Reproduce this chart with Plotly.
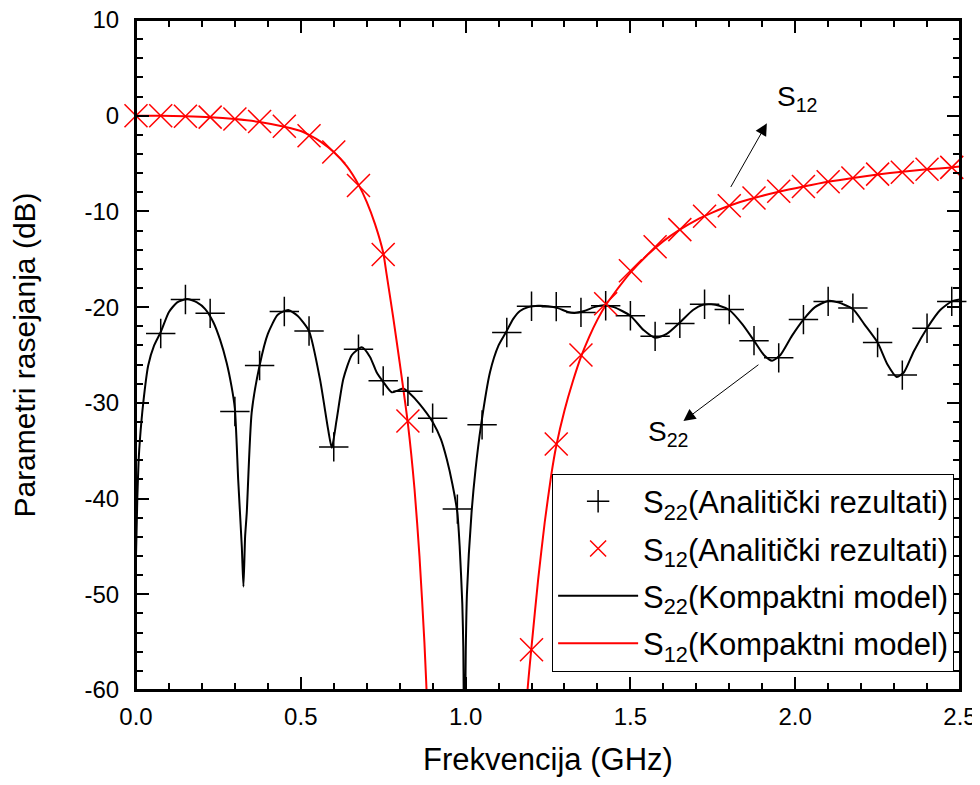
import plotly.graph_objects as go

# analytical results, step 0.075 GHz
f_s22_pts = [0.075, 0.15, 0.225, 0.3, 0.375, 0.45, 0.525, 0.6, 0.675, 0.75, 0.825, 0.9,
             0.975, 1.05, 1.125, 1.2, 1.275, 1.35, 1.425, 1.5, 1.575, 1.65, 1.725, 1.8,
             1.875, 1.95, 2.025, 2.1, 2.175, 2.25, 2.325, 2.4, 2.475]
s22_pts = [-22.75, -19.2, -20.65, -30.9, -26.1, -20.45, -22.5, -34.6, -24.4, -27.7, -28.8, -31.6,
           -41.1, -32.3, -22.65, -19.9, -19.95, -20.55, -19.85, -20.9, -23.05, -21.7, -19.7, -20.25,
           -23.5, -25.3, -21.3, -19.4, -20.1, -23.7, -27.1, -22.2, -19.4]

f_s12_pts = [0.0, 0.075, 0.15, 0.225, 0.3, 0.375, 0.45, 0.525, 0.6, 0.675, 0.75, 0.825,
             1.2, 1.275, 1.35, 1.425, 1.5, 1.575, 1.65, 1.725, 1.8, 1.875, 1.95, 2.025,
             2.1, 2.175, 2.25, 2.325, 2.4, 2.475]
s12_pts = [0.0, 0.0, -0.05, -0.15, -0.35, -0.6, -1.1, -2.1, -3.8, -7.3, -14.5, -31.9,
           -55.8, -34.3, -25.0, -19.65, -16.2, -13.7, -11.9, -10.5, -9.4, -8.6, -7.9, -7.4,
           -6.9, -6.5, -6.1, -5.9, -5.6, -5.4]

# compact model
f_s22_line = [0.0, 0.004, 0.008, 0.012, 0.022, 0.037, 0.055, 0.075, 0.1, 0.125, 0.155, 0.185,
              0.21, 0.235, 0.255, 0.275, 0.29, 0.3, 0.31, 0.321, 0.326, 0.331, 0.336, 0.351,
              0.375, 0.4, 0.43, 0.462, 0.49, 0.525, 0.558, 0.583, 0.594, 0.609, 0.629, 0.655,
              0.685, 0.71, 0.73, 0.75, 0.776, 0.795, 0.811, 0.83, 0.86, 0.9, 0.925, 0.943,
              0.96, 0.975, 0.982, 0.99, 0.993, 0.9965, 1.0005, 1.004, 1.018, 1.03, 1.047, 1.074,
              1.1, 1.123, 1.145, 1.165, 1.19, 1.22, 1.25, 1.28, 1.31, 1.33, 1.36, 1.39,
              1.42, 1.45, 1.5, 1.54, 1.575, 1.61, 1.65, 1.69, 1.72, 1.745, 1.77, 1.8,
              1.84, 1.875, 1.905, 1.93, 1.955, 1.99, 2.025, 2.06, 2.1, 2.13, 2.175, 2.21,
              2.25, 2.28, 2.308, 2.33, 2.36, 2.4, 2.44, 2.475, 2.5]
s22_line = [-46, -40, -36, -33.8, -30, -26.1, -24, -22.6, -20.5, -19.5, -19.15, -19.5,
            -20.2, -21.6, -23.4, -25.8, -28.3, -30.6, -38, -45, -49.2, -44, -41.5, -31,
            -26.1, -22.8, -20.8, -20.3, -20.9, -22.5, -27.5, -32.8, -34.7, -31.7, -27.5, -25.0,
            -24.2, -25.2, -26.8, -27.8, -28.9, -28.7, -28.5, -29.0, -30.1, -32.0, -33.8, -35.9,
            -38.5, -41.5, -45, -51, -55.5, -70, -56, -50, -41.5, -37, -32.3, -26.8,
            -24, -22.6, -21.2, -20.4, -20.0, -19.85, -19.9, -20.1, -20.5, -20.6, -20.4, -20.0,
            -19.8, -20.0, -20.9, -22.4, -23.2, -22.8, -21.6, -20.3, -19.75, -19.7, -19.85, -20.3,
            -21.8, -23.5, -25.0, -25.6, -25.0, -23.0, -21.3, -20.0, -19.35, -19.5, -20.2, -21.8,
            -23.7, -26.0, -27.3, -26.8, -24.6, -22.2, -20.3, -19.4, -19.2]

f_s12_line = [0.0, 0.075, 0.15, 0.225, 0.3, 0.375, 0.45, 0.5, 0.525, 0.56, 0.6, 0.64,
              0.675, 0.7, 0.725, 0.75, 0.76, 0.78, 0.8, 0.825, 0.845, 0.86, 0.875, 0.885,
              0.895, None,
              1.18, 1.188, 1.2, 1.22, 1.24, 1.26, 1.275, 1.3, 1.325, 1.35, 1.375, 1.4,
              1.425, 1.45, 1.5, 1.55, 1.6, 1.65, 1.7, 1.75, 1.8, 1.875, 1.95, 2.025,
              2.1, 2.175, 2.25, 2.325, 2.4, 2.475, 2.5]
s12_line = [0.0, 0.0, -0.05, -0.15, -0.35, -0.65, -1.15, -1.6, -2.0, -2.7, -3.8, -5.3,
            -7.2, -9.0, -11.3, -14.3, -16.5, -21.0, -25.8, -32.2, -39, -46, -55, -63,
            -75, None,
            -66, -60, -55.5, -48.5, -42.5, -37.5, -34.5, -30.8, -27.8, -25.2, -23.1, -21.3,
            -19.8, -18.6, -16.4, -14.6, -13.1, -11.9, -10.9, -10.1, -9.4, -8.6, -7.95, -7.4,
            -6.9, -6.5, -6.15, -5.85, -5.6, -5.4, -5.3]

y_ticks = [10, 0, -10, -20, -30, -40, -50, -60]
y_ticktext = ['10', '0', '-10', '-20', '-30', '-40', '-50', '-60']

FONT = 'Arial, Liberation Sans, sans-serif'

fig = go.Figure()
fig.add_trace(go.Scatter(
    x=f_s22_line, y=s22_line, mode='lines', name='S<sub>22</sub>(Kompaktni model)',
    line=dict(color='black', width=2, shape='spline', smoothing=0.6), legendrank=3, legendgroup='c'
))
fig.add_trace(go.Scatter(
    x=f_s12_line, y=s12_line, mode='lines', name='S<sub>12</sub>(Kompaktni model)',
    line=dict(color='red', width=2, shape='spline', smoothing=0.6), legendrank=4, legendgroup='d'
))
fig.add_trace(go.Scatter(
    x=f_s22_pts, y=s22_pts, mode='markers', name='S<sub>22</sub>(Analitički rezultati)',
    marker=dict(symbol='cross-thin-open', size=21, color='black', line=dict(color='black', width=1.5)),
    legendrank=1, legendgroup='a', cliponaxis=False
))
fig.add_trace(go.Scatter(
    x=f_s12_pts, y=s12_pts, mode='markers', name='S<sub>12</sub>(Analitički rezultati)',
    marker=dict(symbol='x-thin-open', size=23, color='red', line=dict(color='red', width=1.5)),
    legendrank=2, legendgroup='b', cliponaxis=False
))

axis_common = dict(
    showline=True, linecolor='black', linewidth=2, mirror='allticks',
    ticks='inside', ticklen=13, tickwidth=2, tickcolor='black',
    showgrid=False, zeroline=False, automargin=False, ticklabeloverflow='allow',
    tickfont=dict(family=FONT, size=24, color='black'),
)
fig.update_xaxes(
    range=[0, 2.5], dtick=0.5, tickformat='.1f', ticklabelstandoff=4,
    minor=dict(ticks='inside', ticklen=7, tickwidth=2, dtick=0.1, tickcolor='black'),
    title=dict(text='Frekvencija (GHz)', font=dict(family=FONT, size=31, color='black'), standoff=22),
    **axis_common
)
fig.update_yaxes(
    range=[-60, 10], tickvals=y_ticks, ticktext=y_ticktext, ticklabelstandoff=10,
    minor=dict(ticks='inside', ticklen=7, tickwidth=2, dtick=2, tickcolor='black'),
    title=dict(text='Parametri rasejanja (dB)', font=dict(family=FONT, size=30, color='black'), standoff=40),
    **axis_common
)

# frame around the plot area
fig.add_shape(type='rect', xref='paper', yref='paper', x0=0, x1=1, y0=0, y1=1,
              line=dict(color='black', width=2), layer='above')

# arrows pointing at the curves
fig.add_annotation(x=1.914, y=-0.8, ax=1.802, ay=-7.6, axref='x', ayref='y', text='',
                   showarrow=True, arrowhead=2, arrowsize=2.4, arrowwidth=1, arrowcolor='black')
fig.add_annotation(x=2.005, y=1.8, text='S<sub>12</sub>', showarrow=False,
                   font=dict(family=FONT, size=28, color='black'))
fig.add_annotation(x=1.661, y=-31.9, ax=1.893, ay=-25.9, axref='x', ayref='y', text='',
                   showarrow=True, arrowhead=2, arrowsize=2.4, arrowwidth=1, arrowcolor='black')
fig.add_annotation(x=1.614, y=-33.2, text='S<sub>22</sub>', showarrow=False,
                   font=dict(family=FONT, size=28, color='black'))

# page body has an 8px margin, keep the figure inside the window
fig.update_layout(
    width=964, height=769,
    margin=dict(l=128, r=12, t=12, b=87),
    plot_bgcolor='white', paper_bgcolor='white',
    font=dict(family=FONT, color='black'),
    legend=dict(
        x=0.505, y=0.323, xanchor='left', yanchor='top',
        bordercolor='black', borderwidth=1, bgcolor='white',
        font=dict(family=FONT, size=31, color='black'),
        itemwidth=80, tracegroupgap=4,
    ),
)

fig.write_html("out.html", config={'displayModeBar': False})
